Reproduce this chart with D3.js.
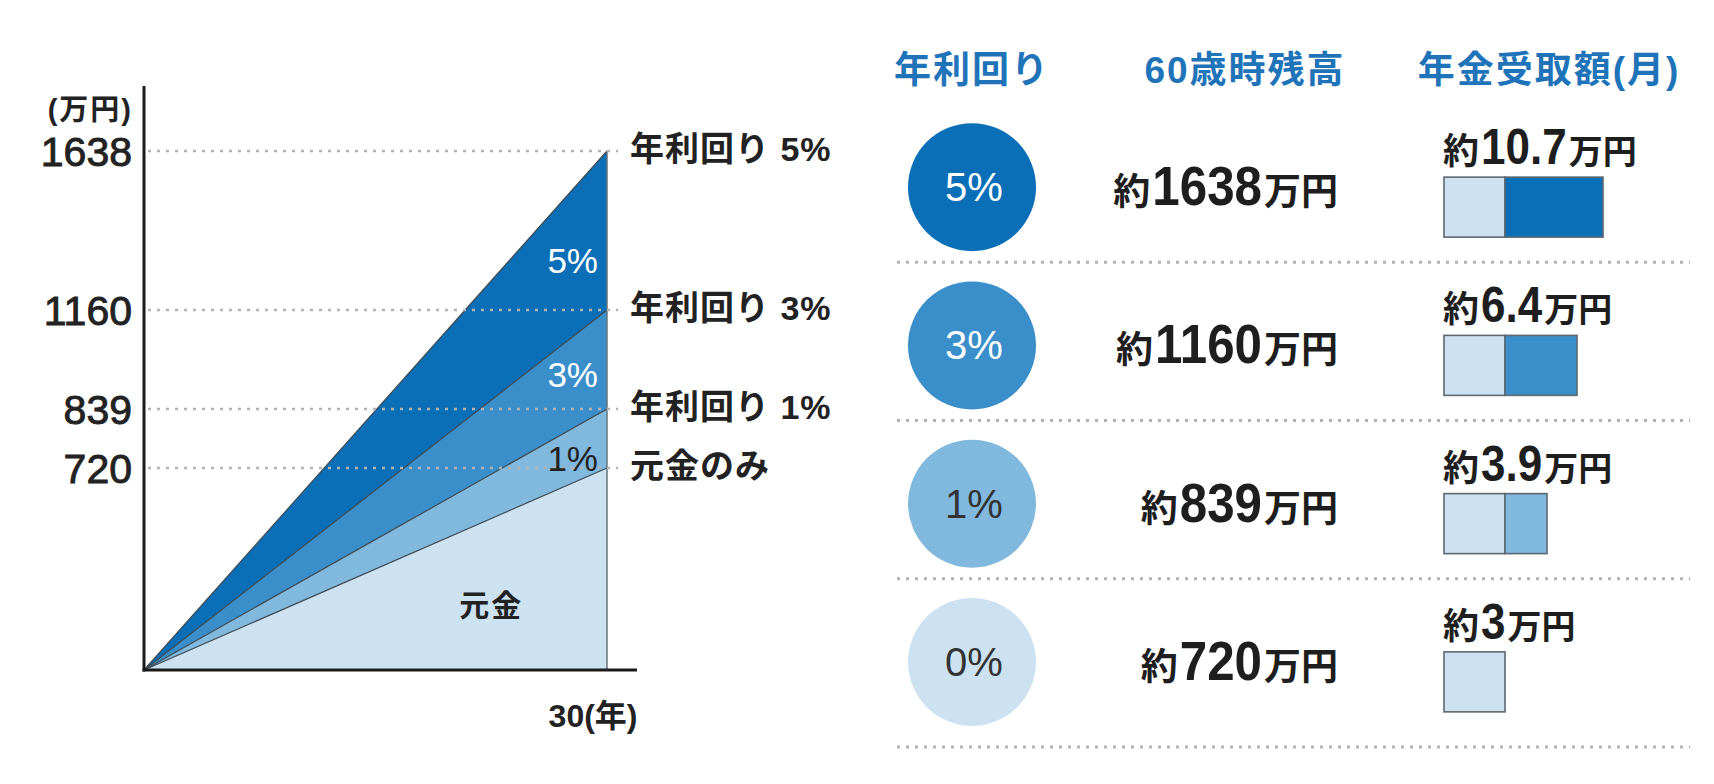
<!DOCTYPE html>
<html><head><meta charset="utf-8">
<script src="https://cdn.jsdelivr.net/npm/d3@7"></script>
<style>
body{margin:0;background:#fff}
svg{display:block}
text{font-family:'Liberation Sans','Noto Sans CJK JP',sans-serif}
</style>
</head><body><svg id="c" width="1714" height="784"></svg>
<script>
// ---- data ----
const years = [0, 30];
const s5 = [0, 1638];
const s3 = [0, 1160];
const s1 = [0, 839];
const s0 = [0, 720];
const seriesNames = ["5%", "3%", "1%", "元金"];
const tickValues = [720, 839, 1160, 1638];
const rightLabels = ["年利回り 5%", "年利回り 3%", "年利回り 1%", "元金のみ"];
const headers = ["年利回り", "60歳時残高", "年金受取額(月)"];
const rates = ["5%", "3%", "1%", "0%"];
const balances = [1638, 1160, 839, 720];
const pensions = [10.7, 6.4, 3.9, 3];
const principalPension = 3;
const colors = ["#0a6fb7", "#3a8fca", "#80b8de", "#cde2f1"];

const svg = d3.select("#c");
const FONT = "'Liberation Sans','Noto Sans CJK JP',sans-serif";
const MED = "Roboto,'Noto Sans CJK JP',sans-serif";

// composite text built from separate text elements placed side by side
function composite(xa, yb, anchor, parts) {
  const grp = svg.append("g");
  const items = parts.map(p => {
    const t = grp.append("text").attr("font-size", p.size).attr("font-weight", 700)
      .attr("fill", "#1e1e1e").text(p.text);
    const wdt = t.node().getComputedTextLength() * (p.f || 1);
    return {t, wdt, p};
  });
  const gap = 2;
  const total = d3.sum(items, d => d.wdt) + gap * (items.length - 1);
  let cx = anchor === "end" ? xa - total : xa;
  items.forEach(d => {
    d.t.attr("transform", `translate(${cx},${yb}) scale(${d.p.f || 1},1)`);
    cx += d.wdt + gap;
  });
}

// ---- left chart ----
const x = d3.scaleLinear().domain([0, 30]).range([144, 607]);
const y = d3.scaleLinear().domain([0, 720, 839, 1160, 1638]).range([670, 468, 409, 310, 151]);

const series = [s5, s3, s1, s0];
const area = d3.area().x(d => x(d[0])).y0(y(0)).y1(d => y(d[1]));
const line = d3.line().x(d => x(d[0])).y(d => y(d[1]));

const g = svg.append("g");
series.forEach((s, i) => {
  const pts = years.map((yr, j) => [yr, s[j]]);
  g.append("path").attr("d", area(pts)).attr("fill", colors[i]);
});
series.forEach((s, i) => {
  const pts = years.map((yr, j) => [yr, s[j]]);
  g.append("path").attr("d", line(pts)).attr("fill", "none")
    .attr("stroke", "#3f4a52").attr("stroke-width", 1.2);
});
g.append("line").attr("x1", x(30)).attr("x2", x(30))
  .attr("y1", y(d3.max(s5))).attr("y2", y(0))
  .attr("stroke", "#66737d").attr("stroke-width", 1.5);

g.selectAll(".grid").data(tickValues).join("line")
  .attr("x1", 148).attr("x2", 618)
  .attr("y1", d => y(d)).attr("y2", d => y(d))
  .attr("stroke", "#b3b3b3").attr("stroke-width", 2.5)
  .attr("stroke-dasharray", "3,6");

const inOff = [-37, -22, 3];
[0, 1, 2].forEach(i => {
  const lower = series[i + 1][1];
  g.append("text").attr("x", x(30) - 9).attr("y", y(lower) + inOff[i])
    .attr("text-anchor", "end").attr("font-size", 35)
    .attr("fill", i < 2 ? "#fff" : "#222").text(seriesNames[i]);
});
g.append("text").attr("x", x(22.5)).attr("y", y(0) - 54)
  .attr("text-anchor", "middle").attr("font-size", 30).attr("font-weight", 700)
  .attr("fill", "#222").attr("letter-spacing", 2).text(seriesNames[3]);

g.selectAll(".rl").data(balances).join("text")
  .attr("x", x(30) + 23).attr("y", d => y(d) + 10)
  .attr("font-size", 34).attr("font-weight", 700).attr("letter-spacing", 1)
  .attr("font-family", MED)
  .attr("fill", "#222").text((d, i) => rightLabels[i]);

// y axis
const yAxis = d3.axisLeft(y).tickValues(tickValues).tickSize(0).tickPadding(12).tickFormat(d3.format("d"));
const ya = svg.append("g").attr("transform", `translate(${x(0)},0)`).call(yAxis);
ya.select(".domain").remove();
ya.selectAll("text").attr("font-size", 41).attr("font-family", FONT).attr("fill", "#222")
  .attr("stroke", "#222").attr("stroke-width", 0.9).attr("dy", "0.36em");
svg.append("line").attr("x1", x(0)).attr("x2", x(0)).attr("y1", 86).attr("y2", y(0) + 1.5)
  .attr("stroke", "#1a1a1a").attr("stroke-width", 3);
svg.append("text").attr("x", 133).attr("y", 120).attr("text-anchor", "end")
  .attr("font-size", 29).attr("font-weight", 700).attr("letter-spacing", 2).attr("fill", "#222").text("(万円)");

// x axis
const xAxis = d3.axisBottom(x).tickValues([30]).tickSize(0).tickPadding(34).tickFormat(d => d + "(年)");
const xa = svg.append("g").attr("transform", `translate(0,${y(0)})`).call(xAxis);
xa.select(".domain").remove();
xa.selectAll("text").attr("font-size", 32).attr("font-weight", 700).attr("font-family", MED)
  .attr("fill", "#222").attr("text-anchor", "end").attr("x", 30).attr("letter-spacing", 0);
svg.append("line").attr("x1", x(0) - 1.5).attr("x2", 637).attr("y1", y(0)).attr("y2", y(0))
  .attr("stroke", "#1a1a1a").attr("stroke-width", 3);

// ---- right table ----
const row = d3.scaleBand().domain(rates).range([108, 741]);
const cy = d => row(d) + row.bandwidth() / 2;
const headerX = [972, 1245, 1549];
svg.selectAll(".hd").data(headers).join("text")
  .attr("x", (d, i) => headerX[i]).attr("y", 83).attr("text-anchor", "middle")
  .attr("font-size", 37).attr("font-weight", 700).attr("letter-spacing", 2)
  .attr("font-family", MED)
  .attr("fill", "#1f74b9").text(d => d);

svg.selectAll(".sep").data(rates).join("line")
  .attr("x1", 897).attr("x2", 1690)
  .attr("y1", (d, i) => cy(d) + (i < 3 ? 75 : 85)).attr("y2", (d, i) => cy(d) + (i < 3 ? 75 : 85))
  .attr("stroke", "#b3b3b3").attr("stroke-width", 3).attr("stroke-dasharray", "3,6");

svg.selectAll(".circ").data(rates).join("circle")
  .attr("cx", 972).attr("cy", d => cy(d)).attr("r", 64).attr("fill", (d, i) => colors[i]);
svg.selectAll(".ctx").data(rates).join("text")
  .attr("x", 974).attr("y", d => cy(d) + 14).attr("text-anchor", "middle")
  .attr("font-size", 40).attr("fill", (d, i) => i < 2 ? "#fff" : "#333").text(d => d);

rates.forEach((r, i) => {
  composite(1338, cy(r) + 18, "end", [
    {text: "約", size: 37},
    {text: String(balances[i]), size: 56, f: 0.88},
    {text: "万円", size: 37}
  ]);
});

const w = d3.scaleLinear().domain([0, 3, 3.9, 6.4, 10.7]).range([0, 61, 103, 133, 159]);
const bx = 1444;
rates.forEach((r, i) => {
  const top = cy(r) - 10;
  composite(bx - 1, cy(r) - 23, "start", [
    {text: "約", size: 36},
    {text: String(pensions[i]), size: 50, f: 0.88},
    {text: "万円", size: 34}
  ]);
  svg.append("rect").attr("x", bx).attr("y", top).attr("width", w(principalPension)).attr("height", 60)
    .attr("fill", colors[3]).attr("stroke", "#5d6870").attr("stroke-width", 1.6);
  if (pensions[i] > principalPension) {
    svg.append("rect").attr("x", bx + w(principalPension)).attr("y", top)
      .attr("width", w(pensions[i]) - w(principalPension)).attr("height", 60)
      .attr("fill", colors[i]).attr("stroke", "#5d6870").attr("stroke-width", 1.6);
  }
});
</script>
</body></html>
